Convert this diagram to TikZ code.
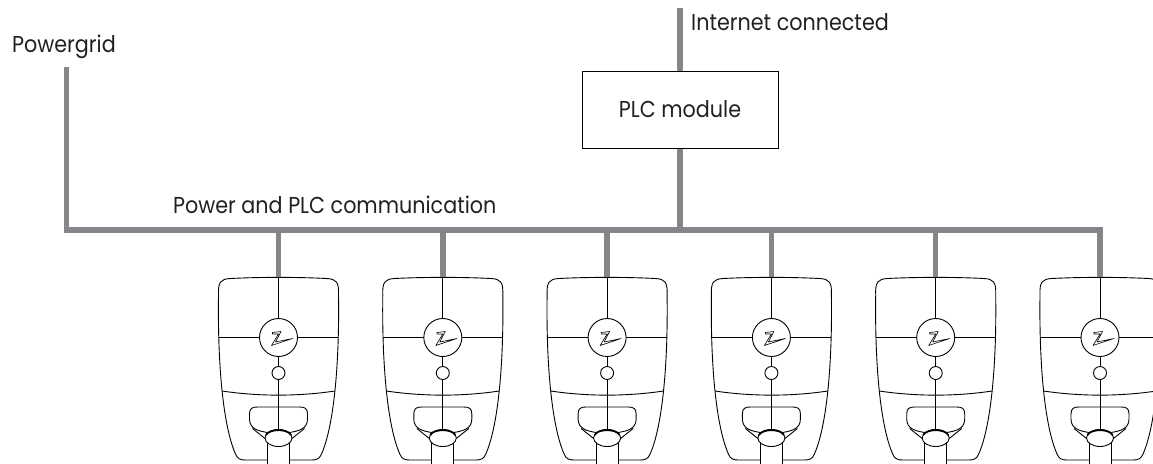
\documentclass[tikz,border=0pt]{standalone}
\usepackage{fontspec}
\setmainfont{Poppins}[FakeStretch=0.9]
\definecolor{wiregray}{RGB}{134,134,138}
\definecolor{ink}{RGB}{35,31,32}
\tikzset{
  wire/.style={draw=wiregray,line width=5.5pt},
  outline/.style={draw=black,line width=0.9pt,line join=round},
  lbl/.style={inner sep=0pt,font=\fontsize{23}{27}\selectfont,text=ink},
  modulebox/.style={draw=black,line width=1pt,minimum width=196pt,minimum height=77pt,
    inner sep=0pt,font=\fontsize{23}{27}\selectfont,text=ink},
  % wall charger, origin at the middle of its top edge
  charger/.pic={
    \begin{scope}[outline]
      % housing
      \draw (-11,183) -- (-33,183) .. controls (-38,183) and (-41,182) .. (-43,177)
        .. controls (-55,150) and (-61,90) .. (-60,18)
        .. controls (-60.5,5) and (-58,2) .. (-48,1.5)
        .. controls (-20,0) and (20,0) .. (48,1.5)
        .. controls (58,2) and (60.5,5) .. (60,18)
        .. controls (61,90) and (55,150) .. (43,177)
        .. controls (41,182) and (38,183) .. (33,183) -- (11,183);
      % centre line and cross line
      \draw (0,0.5) -- (0,41.5);
      \draw (0,79.5) -- (0,89.5);
      \draw (0,102.5) -- (0,152.5);
      \draw (-59.7,60.5) -- (-19,60.5);
      \draw (19,60.5) -- (59.7,60.5);
      % logo disc and status light
      \draw (0,60.5) circle [radius=19];
      \draw (0,96) circle [radius=6.5];
      \begin{scope}[shift={(0,60.5)},line width=0.6pt]
        \draw (-6,-5) -- (2.5,-6) -- (-3,4.5) -- (14,1) -- (-7,8) -- (0,-3.5) -- (-6,-3.5) -- cycle;
      \end{scope}
      % lower panel seam
      \draw (-56.4,114) .. controls (-20,119.5) and (20,119.5) .. (56.4,114);
      % socket recess
      \draw (-11,155.5) .. controls (-20,154) and (-29,152) .. (-29,142) -- (-29,137)
        .. controls (-29,131.5) and (-26.5,130) .. (-21,130) -- (21,130)
        .. controls (26.5,130) and (29,131.5) .. (29,137) -- (29,142)
        .. controls (29,152) and (20,154) .. (11,155.5);
      \draw (-26,151.5) -- (-13.5,161.5);
      \draw (26,151.5) -- (13.5,161.5);
      \draw (0,161) ellipse [x radius=13.5, y radius=8.5];
      \draw[line width=1.8pt] (-12.5,158) .. controls (-9,151.5) and (9,151.5) .. (12.5,158);
      % cable holder
      \draw (-11,166) -- (-11,190);
      \draw (11,166) -- (11,190);
    \end{scope}
  }
}
\begin{document}
\begin{tikzpicture}[x=1pt,y=-1pt]
  \useasboundingbox (0,0) rectangle (1153,463);

  % labels
  \node[lbl,anchor=base west] (pgl) at (12,52) {Powergrid};
  \node[lbl,anchor=base west] (inl) at (691,30) {Internet connected};
  \node[lbl,anchor=base west] (busl) at (173,213) {Power and PLC communication};
  \node[modulebox] (plc) at (680,109.5) {PLC module};

  % wiring points
  \coordinate (pgtop) at (66.5,67);
  \coordinate (pgcorner) at (66.5,230);
  \coordinate (inettop) at (680,8);
  \coordinate (j0) at (680,230);
  \foreach \i in {1,...,6} {
    \coordinate (t\i) at ({278.5+164.3*(\i-1)},230);
    \coordinate (ch\i) at ({278.5+164.3*(\i-1)},277);
  }

  % chargers
  \foreach \i in {1,...,6} {
    \pic at (ch\i) {charger};
  }

  % power line and PLC link
  \draw[wire] (inettop) -- (plc.north);
  \draw[wire] (plc.south) -- (j0);
  \draw[wire,line join=miter] (pgtop) -- (pgcorner) -- (t6) -- (ch6);
  \foreach \i in {1,...,5} {
    \draw[wire] (t\i) -- (ch\i);
  }
\end{tikzpicture}
\end{document}
